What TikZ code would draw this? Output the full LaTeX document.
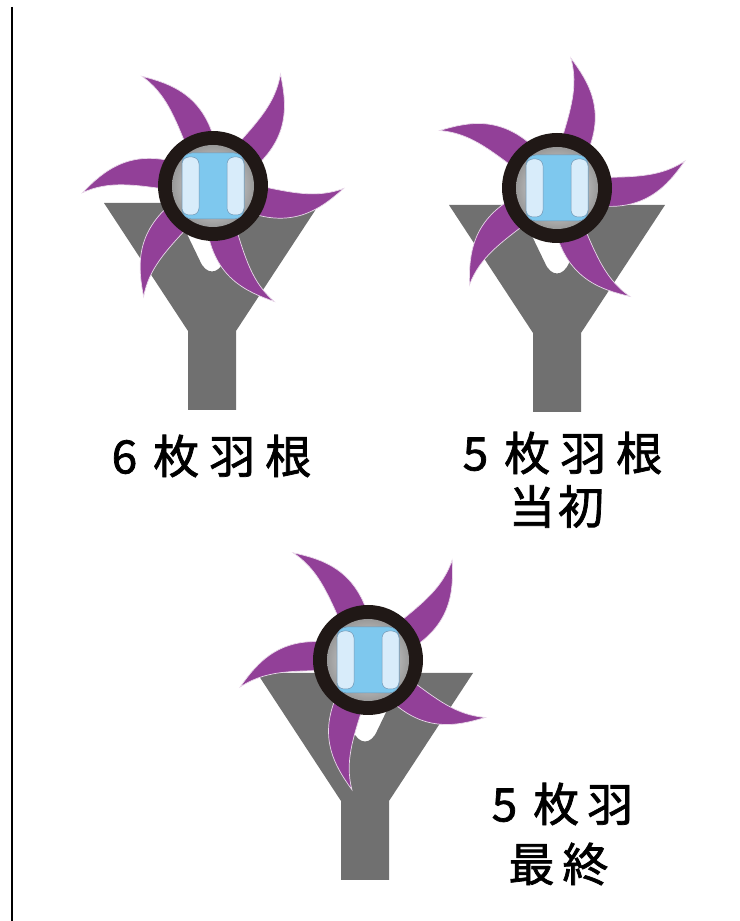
\documentclass[tikz,border=0pt]{standalone}
\usepackage{fontspec}
\newfontfamily\jpfont[FakeBold=1.6]{Noto Sans CJK JP}
\begin{document}
\begin{tikzpicture}[x=1pt,y=1pt]
\definecolor{ygray}{RGB}{112,112,112}
\definecolor{bladepurple}{RGB}{146,64,152}
\definecolor{ringblack}{RGB}{32,24,22}
\definecolor{lensblue}{RGB}{126,200,238}
\definecolor{padblue}{RGB}{216,236,250}
\definecolor{padedge}{RGB}{110,150,180}
\tikzset{
  yshape/.style={fill=ygray},
  blade/.style={fill=bladepurple, draw=white!80!bladepurple, line width=0.7pt},
  ring/.style={fill=ringblack},
  lens/.style={fill=lensblue, draw=padedge, line width=0.5pt},
  pad/.style={fill=padblue, draw=padedge, line width=0.5pt},
  jplabel/.style={font=\jpfont\fontsize{46}{54}\selectfont, text=black, inner sep=0pt, anchor=center},
  divider/.style={line width=2.6pt, black},
}
\useasboundingbox (0,0) rectangle (739,921);

% Y-shaped holder, origin at the middle of its top edge
\newcommand\holder[2]{%
  \begin{scope}[shift={(#1,#2)}]
    \path[yshape] (-108,0) -- (-40,0) -- (-12,-58)
      .. controls (-6,-72) and (6,-72) .. (12,-58)
      -- (40,0) -- (108,0) -- (24,-128) -- (24,-207)
      -- (-24,-207) -- (-24,-128) -- cycle;
  \end{scope}}
% curved blades around the hub
\newcommand\blades[3]{%
  \foreach \ang in {#3} {
    \begin{scope}[shift={(#1,#2)}, rotate=\ang]
      \path[blade] (40,-14) .. controls (90,-16) and (110,12) .. (125,38)
        .. controls (102,20) and (78,18) .. (40,14) -- cycle;
    \end{scope}}}
% black ring with the lens inside
\newcommand\hub[2]{%
  \begin{scope}[shift={(#1,#2)}]
    \fill[ring] (0,0) circle (55);
    \shade[inner color=gray!5, outer color=gray!80] (0,0) circle (41);
    \path[lens, rounded corners=10pt] (-31,-33) rectangle (31,33);
    \path[pad, rounded corners=7pt] (-31,-29) rectangle (-14,29);
    \path[pad, rounded corners=7pt] (14,-29) rectangle (31,29);
  \end{scope}}

% left margin rule
\coordinate (ruletop) at (12,914);
\coordinate (rulebot) at (12,0);
\draw[divider] (ruletop) -- (rulebot);

% six blades
\holder{212}{718}
\blades{213}{735}{-18,42,106,166,221,281}
\hub{213}{735}
\node[jplabel] (lab6) at (211.5,465) {6\hspace{16pt}枚\hspace{10pt}羽\hspace{10pt}根};

% five blades, initial
\holder{557}{716}
\blades{557}{733}{-5,67,137,211,287}
\hub{557}{733}
\node[jplabel] (lab5a) at (562.5,468) {5\hspace{16pt}枚\hspace{10pt}羽\hspace{10pt}根};
\node[jplabel] (lab5b) at (556.5,414.5) {当\hspace{3pt}初};

% five blades, final
\holder{365}{248}
\blades{368}{261}{33,108,175,246,317}
\hub{368}{261}
\node[jplabel] (lab5c) at (562.5,117) {5\hspace{16pt}枚\hspace{8pt}羽};
\node[jplabel] (lab5d) at (558.5,57) {最\hspace{8pt}終};
\end{tikzpicture}
\end{document}
